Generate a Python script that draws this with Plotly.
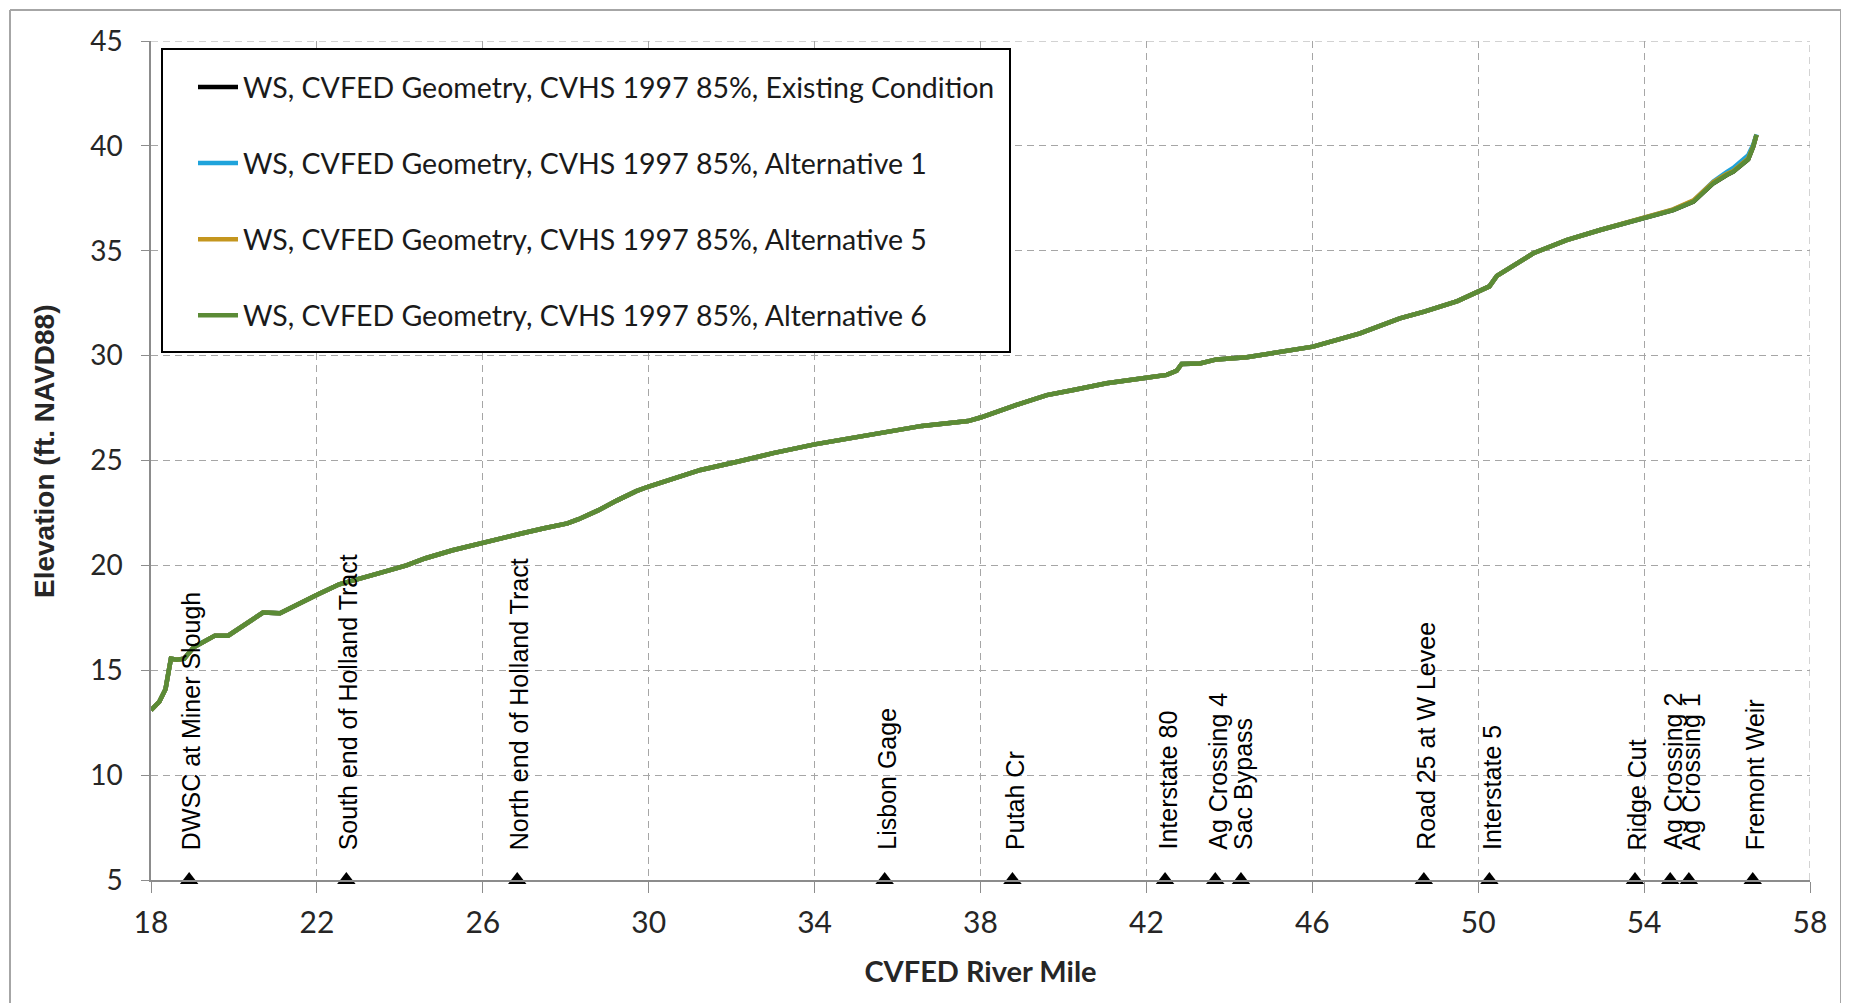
import plotly.graph_objects as go

# ---------------- data ----------------
river_mile = [18.00, 18.20, 18.35, 18.48, 18.62, 18.80, 19.03, 19.30, 19.54, 19.86,
              20.28, 20.70, 21.11, 21.57, 22.03, 22.54, 22.87, 23.42, 24.16, 24.62,
              25.27, 26.02, 26.56, 26.93, 27.48, 28.04, 28.31, 28.78, 29.24, 29.70,
              30.00, 30.62, 31.25, 32.16, 33.00, 34.00, 35.00, 35.67, 36.59, 37.70,
              38.00, 38.87, 39.60, 40.24, 41.04, 42.00, 42.49, 42.73, 42.85, 43.29,
              43.69, 44.42, 45.06, 46.02, 47.15, 48.11, 48.70, 49.50, 50.27, 50.45,
              51.33, 52.13, 52.94, 54.00, 54.70, 55.19, 55.67, 55.99, 56.15, 56.51,
              56.63, 56.71]

ws_existing = [13.10, 13.50, 14.10, 15.55, 15.50, 15.55, 16.10, 16.40, 16.65, 16.65,
               17.20, 17.75, 17.72, 18.20, 18.62, 19.10, 19.30, 19.58, 20.00, 20.34,
               20.72, 21.10, 21.35, 21.52, 21.77, 22.00, 22.20, 22.62, 23.10, 23.54,
               23.76, 24.14, 24.55, 24.95, 25.35, 25.77, 26.10, 26.37, 26.65, 26.88,
               27.05, 27.65, 28.12, 28.36, 28.68, 28.95, 29.08, 29.28, 29.60, 29.63,
               29.82, 29.92, 30.14, 30.43, 31.06, 31.78, 32.10, 32.60, 33.30, 33.80,
               34.88, 35.51, 35.99, 36.59, 36.94, 37.34, 38.22, 38.61, 38.77, 39.36,
               39.96, 40.52]

ws_alt1 = [13.10, 13.50, 14.10, 15.55, 15.50, 15.55, 16.10, 16.40, 16.65, 16.65,
           17.20, 17.75, 17.72, 18.20, 18.62, 19.10, 19.30, 19.58, 20.00, 20.34,
           20.72, 21.10, 21.35, 21.52, 21.77, 22.00, 22.20, 22.62, 23.10, 23.54,
           23.76, 24.14, 24.55, 24.95, 25.35, 25.77, 26.10, 26.37, 26.65, 26.88,
           27.05, 27.65, 28.12, 28.36, 28.68, 28.95, 29.08, 29.28, 29.60, 29.63,
           29.82, 29.92, 30.14, 30.43, 31.06, 31.78, 32.10, 32.60, 33.30, 33.80,
           34.88, 35.51, 35.99, 36.59, 36.96, 37.38, 38.30, 38.75, 38.95, 39.55,
           40.05, 40.55]

ws_alt5 = [13.10, 13.50, 14.10, 15.55, 15.50, 15.55, 16.10, 16.40, 16.65, 16.65,
           17.20, 17.75, 17.72, 18.20, 18.62, 19.10, 19.30, 19.58, 20.00, 20.34,
           20.72, 21.10, 21.35, 21.52, 21.77, 22.00, 22.20, 22.62, 23.10, 23.54,
           23.76, 24.14, 24.55, 24.95, 25.35, 25.77, 26.10, 26.37, 26.65, 26.88,
           27.05, 27.65, 28.12, 28.36, 28.68, 28.95, 29.08, 29.28, 29.60, 29.63,
           29.82, 29.92, 30.14, 30.43, 31.06, 31.78, 32.10, 32.60, 33.30, 33.80,
           34.88, 35.51, 35.99, 36.59, 36.97, 37.40, 38.28, 38.66, 38.80, 39.40,
           39.98, 40.52]

ws_alt6 = [13.10, 13.50, 14.10, 15.55, 15.50, 15.55, 16.10, 16.40, 16.65, 16.65,
           17.20, 17.75, 17.72, 18.20, 18.62, 19.10, 19.30, 19.58, 20.00, 20.34,
           20.72, 21.10, 21.35, 21.52, 21.77, 22.00, 22.20, 22.62, 23.10, 23.54,
           23.76, 24.14, 24.55, 24.95, 25.35, 25.77, 26.10, 26.37, 26.65, 26.88,
           27.05, 27.65, 28.12, 28.36, 28.68, 28.95, 29.08, 29.28, 29.60, 29.63,
           29.82, 29.92, 30.14, 30.43, 31.06, 31.78, 32.10, 32.60, 33.30, 33.80,
           34.88, 35.51, 35.99, 36.59, 36.94, 37.34, 38.22, 38.61, 38.77, 39.36,
           39.96, 40.52]

series_names = ["WS, CVFED Geometry, CVHS 1997 85%, Existing Condition",
                "WS, CVFED Geometry, CVHS 1997 85%, Alternative 1",
                "WS, CVFED Geometry, CVHS 1997 85%, Alternative 5",
                "WS, CVFED Geometry, CVHS 1997 85%, Alternative 6"]
series_colors = ["#000000", "#1FA3DB", "#C4961E", "#5B8B36"]

landmark_names = ["DWSC at Miner Slough", "South end of Holland Tract",
                  "North end of Holland Tract", "Lisbon Gage", "Putah Cr",
                  "Interstate 80", "Ag Crossing 4", "Sac Bypass",
                  "Road 25 at W Levee", "Interstate 5", "Ridge Cut",
                  "Ag Crossing 2", "Ag Crossing 1", "Fremont Weir"]
landmark_miles = [18.92, 22.71, 26.83, 35.69, 38.77, 42.45, 43.66, 44.28,
                  48.69, 50.27, 53.78, 54.63, 55.08, 56.62]
landmark_base = [5] * len(landmark_miles)

y_ticks = [5, 10, 15, 20, 25, 30, 35, 40, 45]
x_ticks = [18, 22, 26, 30, 34, 38, 42, 46, 50, 54, 58]

# ---------------- figure ----------------
OFF = 8                      # page body margin
W, H = 1849 - OFF, 1005 - OFF
ML, MT = 151 - OFF, 41 - OFF
MR, MB = 1849 - 1810, 1005 - 880
PW, PH = W - ML - MR, H - MT - MB

def px_x(p):                 # page pixel -> paper
    return (p - OFF - ML) / PW

def px_y(p):
    return (H - MB - (p - OFF)) / PH

fig = go.Figure()
for name, col, ys in zip(series_names, series_colors,
                         [ws_existing, ws_alt1, ws_alt5, ws_alt6]):
    fig.add_trace(go.Scatter(x=river_mile, y=ys, mode="lines", name=name,
                             legendgroup=name,
                             line=dict(color=col, width=4.5)))

fig.add_trace(go.Scatter(x=landmark_miles, y=landmark_base, mode="markers",
                         showlegend=False, cliponaxis=False,
                         marker=dict(symbol="triangle-up", size=16, color="black")))

for nm, xm in zip(landmark_names, landmark_miles):
    fig.add_annotation(x=xm, y=5, text=nm, textangle=-90, showarrow=False,
                       xanchor="center", yanchor="bottom", yshift=28, xshift=2,
                       font=dict(family="Liberation Sans, Arial", size=25, color="black"))

# y-axis title (placed as in the reference, slightly above plot centre)
fig.add_annotation(xref="paper", yref="paper", x=px_x(45), y=px_y(451),
                   text="Elevation (ft. NAVD88)", textangle=-90, showarrow=False,
                   xanchor="center", yanchor="middle",
                   font=dict(family="Liberation Sans, Arial", size=28,
                             color="#262626", weight="bold"))

grid_common = dict(showgrid=True, gridcolor="#A6A6A6", gridwidth=1,
                   griddash="7px,5px", zeroline=False)

fig.update_xaxes(range=[18, 58], tickvals=x_ticks, ticks="outside", ticklen=11,
                 tickcolor="#8C8C8C", showline=True, linecolor="#8C8C8C", linewidth=1.5,
                 tickfont=dict(family="Lato", size=30, color="#262626"),
                 ticklabelstandoff=4,
                 title=dict(text="CVFED River Mile",
                            font=dict(family="Lato", size=29, color="#262626", weight="bold"),
                            standoff=24),
                 **grid_common)
fig.update_yaxes(range=[5, 45], tickvals=y_ticks, ticks="outside", ticklen=8,
                 tickcolor="#8C8C8C", showline=True, linecolor="#8C8C8C", linewidth=1.5,
                 tickfont=dict(family="Lato", size=28, color="#262626"),
                 ticklabelstandoff=13,
                 **grid_common)

# dashed boundary gridlines at top (45) and right (58)
fig.add_shape(type="line", xref="x", yref="y", x0=18, x1=58, y0=45, y1=45,
              line=dict(color="#A6A6A6", width=1, dash="7px,5px"), layer="below")
fig.add_shape(type="line", xref="x", yref="y", x0=58, x1=58, y0=5, y1=45,
              line=dict(color="#A6A6A6", width=1, dash="7px,5px"), layer="below")

# legend frame
fig.add_shape(type="rect", xref="paper", yref="paper",
              x0=px_x(162), x1=px_x(1010), y0=px_y(352), y1=px_y(49),
              line=dict(color="black", width=2), fillcolor="white", layer="above")

# outer chart frame (left, top, right)
frame = dict(color="#A6A6A6", width=2)
fig.add_shape(type="line", xref="paper", yref="paper",
              x0=px_x(10), x1=px_x(10), y0=px_y(1003), y1=px_y(10), line=frame)
fig.add_shape(type="line", xref="paper", yref="paper",
              x0=px_x(10), x1=px_x(1841), y0=px_y(10), y1=px_y(10), line=frame)
fig.add_shape(type="line", xref="paper", yref="paper",
              x0=px_x(1841), x1=px_x(1841), y0=px_y(1003), y1=px_y(10), line=frame)

fig.update_layout(
    width=W, height=H,
    margin=dict(l=ML, r=MR, t=MT, b=MB),
    paper_bgcolor="white", plot_bgcolor="white",
    legend=dict(x=px_x(193), y=px_y(62), xanchor="left", yanchor="top",
                bgcolor="rgba(0,0,0,0)", borderwidth=0,
                font=dict(family="Lato", size=28.5, color="#1a1a1a"),
                tracegroupgap=36, itemwidth=40),
    showlegend=True,
)

fig.write_html("out.html")
